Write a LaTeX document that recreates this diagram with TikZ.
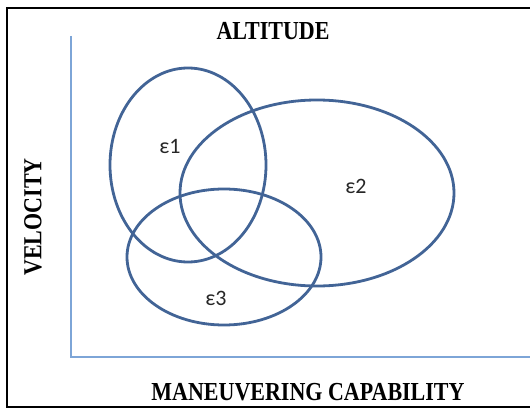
\documentclass[tikz,border=0pt]{standalone}
\usepackage{fontspec}
\setmainfont{Liberation Serif}
\newfontfamily\setfont{Carlito}
\usepackage{graphicx}
\usepackage{tikz}
\usetikzlibrary{
  calc
}
\definecolor{ringblue}{RGB}{66,100,150}
\definecolor{axisblue}{RGB}{125,165,215}
\newcommand{\tallcaps}[1]{\scalebox{1.0}[1.18]{#1}}
\tikzset{
  ring/.style={
    line width=2.8pt,
    ringblue
  },
  axisline/.style={
    line width=2.2pt,
    axisblue
  },
  axislabel/.style={
    font=\fontsize{22}{22}\selectfont\bfseries,
    inner sep=0pt
  },
  setlabel/.style={
    font=\setfont\fontsize{22}{22}\selectfont,
    text=black!85,
    inner sep=0pt
  }
}

\begin{document}
\begin{tikzpicture}[x=1pt,y=-1pt]
\useasboundingbox (0,0) rectangle (530,409);
\clip (0,0) rectangle (530,409);
\draw[line width=2.4pt] (7,8) rectangle (545,407);
% axes
\coordinate (top) at (71,36);
\coordinate (origin) at (71,357);
\coordinate (right) at (545,357);
\draw[axisline] (top) -- (origin) -- (right);
% the three sets
\draw[ring] (188,165) ellipse [x radius=78, y radius=97];
\draw[ring] (317,193) ellipse [x radius=137, y radius=93];
\draw[ring] (224,257) ellipse [x radius=97, y radius=68];
\node[setlabel] (e1) at (170,146) {ε1};
\node[setlabel] (e2) at (356,186) {ε2};
\node[setlabel] (e3) at (216,298) {ε3};
% axis labels
\node[axislabel] (alt) at (273,31) {\tallcaps{ALTITUDE}};
\node[axislabel] (man) at (308,392) {\tallcaps{MANEUVERING CAPABILITY}};
\node[axislabel, rotate=90] (vel) at (33,217) {\tallcaps{VELOCITY}};
\end{tikzpicture}
\end{document}
